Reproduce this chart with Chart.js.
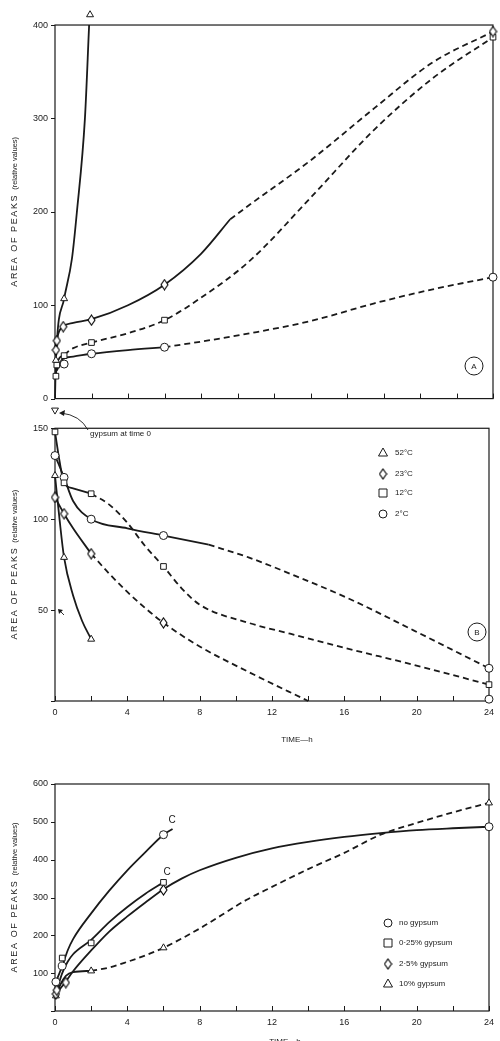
<!DOCTYPE html>
<html>
<head>
<meta charset="utf-8">
<script src="https://cdn.jsdelivr.net/npm/chart.js@4/dist/chart.umd.min.js"></script>
<style>
  body { margin: 0; background: #fff; width: 500px; height: 1041px; overflow: hidden; position: relative; }
  canvas { position: absolute; left: 0; }
</style>
</head>
<body>
<canvas id="chartA" width="500" height="445" style="top:-20px"></canvas>
<canvas id="chartB" width="500" height="365" style="top:385px"></canvas>
<canvas id="chartC" width="500" height="281" style="top:760px"></canvas>
<script>
// ---- panel A : area of peaks vs time, rising ----
const aYTicks = [0, 100, 200, 300, 400];
const a52Marks = [[0.05, 41], [0.5, 107], [1.92, 411]];
const a52Solid = [[0, 0], [0.05, 41], [0.5, 107], [0.93, 150], [1.2, 200], [1.64, 300], [1.87, 400]];
const a23Marks = [[0.05, 52], [0.1, 62], [0.45, 77], [2, 84], [6, 122], [24, 393]];
const a23Solid = [[0.05, 52], [0.1, 62], [0.45, 77], [1, 81], [2, 85], [4, 100], [6, 122], [8, 155], [9.6, 192]];
const a23Dash = [[9.6, 192], [10.7, 208], [14, 255], [17.5, 311], [20.7, 360], [24, 393]];
const a12Marks = [[0.05, 24], [0.1, 36], [0.5, 46], [2, 60], [6, 84], [24, 387]];
const a12Solid = [[0.05, 24], [0.1, 36], [0.5, 47]];
const a12Dash = [[0.5, 47], [1, 54], [2, 60], [4, 70], [6, 84], [8, 108], [10.7, 148], [14, 215], [17.5, 288], [20.7, 343], [24, 387]];
const a2Marks = [[0.5, 37], [2, 48], [6, 55], [24, 130]];
const a2Solid = [[0.1, 30], [0.4, 42], [1, 45], [2, 48], [4, 52], [6, 55]];
const a2Dash = [[6, 55], [8, 61], [10.7, 70], [14, 83], [17.5, 102], [20.7, 117], [24, 130]];

// ---- panel B : falling after gypsum at time 0 ----
const bYTicks = [0, 50, 100, 150];
const bGypsum = [[0, 160]];
const b52Marks = [[0, 124], [0.5, 79], [2, 34]];
const b52Solid = [[0, 124], [0.25, 100], [0.5, 79], [1, 58], [1.5, 44], [2, 34]];
const b23Marks = [[0, 112], [0.5, 103], [2, 81], [6, 43]];
const b23Solid = [[0, 112], [0.5, 103], [1, 95], [2, 81]];
const b23Dash = [[2, 81], [3, 70], [4, 60], [5, 51], [6, 43], [8, 30], [10.7, 16], [14, 0]];
const b12Marks = [[0, 148], [0.5, 120], [2, 114], [6, 74], [24, 9]];
const b12Solid = [[0, 148], [0.25, 132], [0.5, 120], [1, 117], [2, 114]];
const b12Dash = [[2, 114], [3, 108], [4, 98], [5, 85], [6, 74], [7, 62], [8, 53], [10.7, 43], [13, 37], [16.1, 29], [19.8, 20], [24, 9]];
const b2Marks = [[0, 135], [0.5, 123], [2, 100], [6, 91], [24, 18], [24, 1]];
const b2Solid = [[0, 135], [0.5, 123], [1, 110], [2, 100], [4, 95], [6, 91], [8.5, 86]];
const b2Dash = [[8.5, 86], [10.7, 79], [13, 70], [16.1, 57], [19.8, 39], [24, 18]];

// ---- panel C : gypsum content ----
const cYTicks = [0, 100, 200, 300, 400, 500, 600];
const cNoMarks = [[0.05, 77], [0.4, 119], [6, 466], [24, 487]];
const cNoSolid = [[0.05, 77], [0.4, 119], [0.7, 160], [1, 190], [2, 258], [3, 318], [4, 372], [5, 420], [6, 466], [6.5, 481]];
const c025Marks = [[0.4, 140], [2, 180], [6, 340]];
const c025Solid = [[0.1, 55], [0.4, 100], [0.7, 130], [1, 150], [2, 188], [3, 235], [4, 275], [5, 310], [6, 340]];
const c25Marks = [[0.05, 45], [0.1, 55], [0.6, 75], [6, 320]];
const c25Solid = [[0.05, 45], [0.6, 78], [1, 105], [2, 160], [3, 210], [4, 250], [5, 287], [6, 322], [7, 350], [8, 372], [10, 405], [12, 430], [14, 447], [16, 460], [18, 470], [20, 478], [22, 483], [24, 487]];
const c10Marks = [[0.05, 40], [2, 106], [6, 167], [24, 550]];
const c10Solid = [[0.05, 40], [0.3, 70], [0.6, 93], [1, 103], [2, 106]];
const c10Dash = [[2, 106], [3, 115], [4, 130], [5, 147], [6, 167], [8, 218], [10.6, 294], [12, 328], [14, 375], [16, 418], [18, 466], [20, 497], [22, 525], [24, 550]];

const bLegend = ['52°C', '23°C', '12°C', '2°C'];
const cLegend = ['no gypsum', '0·25% gypsum', '2·5% gypsum', '10% gypsum'];

const INK = '#1a1a1a';
const FONT = '"Liberation Sans", Arial, sans-serif';

// narrow diamond marker, as in the print
function makeDiamond(w, h) {
    const c = document.createElement('canvas');
    c.width = w + 2; c.height = h + 2;
    const g = c.getContext('2d');
    g.beginPath();
    g.moveTo(c.width / 2, 1); g.lineTo(c.width - 1, c.height / 2);
    g.lineTo(c.width / 2, c.height - 1); g.lineTo(1, c.height / 2);
    g.closePath();
    g.fillStyle = '#fff'; g.fill();
    g.strokeStyle = '#000'; g.lineWidth = 1.1; g.stroke();
    return c;
}
const diamond = makeDiamond(7, 10);

const pts = a => a.map(([x, y]) => ({ x, y }));

function curve(a, dashed) {
    return {
        data: pts(a), showLine: true, pointRadius: 0, borderColor: INK, borderWidth: 1.8,
        borderDash: dashed ? [6, 4] : [], cubicInterpolationMode: 'monotone', clip: false, order: 2
    };
}
function marks(a, style, rot) {
    return {
        data: pts(a), showLine: false, pointStyle: style, pointRadius: 4, pointRotation: rot || 0,
        pointBackgroundColor: '#fff', pointBorderColor: INK, pointBorderWidth: 1, clip: false, order: 1
    };
}

// marker glyphs for the hand-drawn legends
function glyph(ctx, kind, x, y) {
    ctx.save();
    ctx.fillStyle = '#fff'; ctx.strokeStyle = INK; ctx.lineWidth = 1;
    ctx.beginPath();
    if (kind === 'circle') ctx.arc(x, y, 4, 0, Math.PI * 2);
    else if (kind === 'rect') ctx.rect(x - 4, y - 4, 8, 8);
    else if (kind === 'triangle') { ctx.moveTo(x, y - 5); ctx.lineTo(x + 4.5, y + 3); ctx.lineTo(x - 4.5, y + 3); ctx.closePath(); }
    if (kind === 'diamond') ctx.drawImage(diamond, x - diamond.width / 2, y - diamond.height / 2);
    else { ctx.fill(); ctx.stroke(); }
    ctx.restore();
}

function ringLabel(ctx, x, y, t) {
    ctx.beginPath(); ctx.arc(x, y, 9, 0, Math.PI * 2);
    ctx.lineWidth = 1; ctx.strokeStyle = INK; ctx.stroke();
    ctx.fillStyle = INK; ctx.font = '8px ' + FONT;
    ctx.textAlign = 'center'; ctx.textBaseline = 'middle';
    ctx.fillText(t, x, y + 0.5);
}

// frame, inward x ticks, outward y ticks, rotated y title, per-panel extras
const decor = {
    id: 'decor',
    beforeDatasetsDraw(chart, args, opts) {
        const { ctx, chartArea: ca, scales: { x, y } } = chart;
        const top = y.getPixelForValue(opts.frame[1]);
        const bottom = y.getPixelForValue(opts.frame[0]);
        ctx.save();
        ctx.strokeStyle = INK; ctx.lineWidth = 1.2;
        ctx.strokeRect(ca.left, top, ca.right - ca.left, bottom - top);
        ctx.lineWidth = 1;
        ctx.beginPath();
        x.ticks.forEach(t => {
            const px = Math.round(x.getPixelForValue(t.value)) + 0.5;
            ctx.moveTo(px, bottom); ctx.lineTo(px, bottom - 5);
        });
        y.ticks.forEach(t => {
            const py = Math.round(y.getPixelForValue(t.value)) + 0.5;
            ctx.moveTo(ca.left - 4, py); ctx.lineTo(ca.left, py);
        });
        ctx.stroke();
        ctx.restore();
    },
    afterDraw(chart, args, opts) {
        const { ctx, scales: { y } } = chart;
        const mid = (y.getPixelForValue(opts.frame[0]) + y.getPixelForValue(opts.frame[1])) / 2;
        ctx.save();
        // y axis title with two sizes
        ctx.translate(15, mid);
        ctx.rotate(-Math.PI / 2);
        ctx.fillStyle = INK; ctx.textBaseline = 'middle'; ctx.textAlign = 'left';
        const t1 = 'AREA OF PEAKS', t2 = '(relative values)';
        ctx.font = '9px ' + FONT; ctx.letterSpacing = '1.6px';
        const w1 = ctx.measureText(t1).width;
        ctx.font = '7.5px ' + FONT; ctx.letterSpacing = '0px';
        const w2 = ctx.measureText(t2).width;
        const start = -(w1 + 4 + w2) / 2;
        ctx.font = '9px ' + FONT; ctx.letterSpacing = '1.6px';
        ctx.fillText(t1, start, 0);
        ctx.font = '7.5px ' + FONT; ctx.letterSpacing = '0px';
        ctx.fillText(t2, start + w1 + 4, 0);
        ctx.restore();
        if (opts.extra) { ctx.save(); opts.extra(ctx, chart); ctx.restore(); }
    }
};

function makeChart(id, cfg) {
    return new Chart(document.getElementById(id), {
        type: 'scatter',
        data: { datasets: cfg.datasets },
        plugins: [decor],
        options: {
            responsive: false, animation: false, events: [],
            layout: { padding: cfg.padding },
            plugins: {
                legend: { display: false }, tooltip: { enabled: false },
                decor: { extra: cfg.extra, frame: cfg.frame }
            },
            scales: {
                x: {
                    type: 'linear', min: 0, max: 24,
                    afterFit: s => { s.height = cfg.xHeight; },
                    grid: { display: false, drawTicks: false }, border: { display: false },
                    ticks: {
                        stepSize: 2, padding: 6, color: INK, font: { family: FONT, size: 9 },
                        callback: v => (cfg.xLabels && v % 4 === 0) ? String(v) : ''
                    }
                },
                y: {
                    type: 'linear', min: cfg.yRange[0], max: cfg.yRange[1],
                    afterFit: s => { s.width = 55; },
                    afterBuildTicks: s => { s.ticks = cfg.yTicks.map(v => ({ value: v })); },
                    grid: { display: false, drawTicks: false }, border: { display: false },
                    ticks: {
                        padding: 7, color: INK, font: { family: FONT, size: 9 },
                        callback: v => (v === 0 && !cfg.yZero) ? '' : String(v)
                    }
                }
            }
        }
    });
}

// A: frame 0..400, scale widened so the off-frame marks still draw
makeChart('chartA', {
    padding: { top: 17, right: 7, left: 0, bottom: 0 }, xHeight: 8, xLabels: false,
    yTicks: aYTicks, yZero: true, yRange: [-15, 430], frame: [0, 400],
    datasets: [
        curve(a52Solid), curve(a23Solid), curve(a23Dash, true),
        curve(a12Solid), curve(a12Dash, true), curve(a2Solid), curve(a2Dash, true),
        marks(a52Marks, 'triangle'), marks(a23Marks, diamond), marks(a12Marks, 'rect'), marks(a2Marks, 'circle')
    ],
    extra: ctx => ringLabel(ctx, 474, 386, 'A')
});

makeChart('chartB', {
    padding: { top: 16, right: 6, left: 0, bottom: 0 }, xHeight: 49, xLabels: true,
    yTicks: bYTicks, yZero: false, yRange: [0, 165], frame: [0, 150],
    datasets: [
        curve(b52Solid), curve(b23Solid), curve(b23Dash, true),
        curve(b12Solid), curve(b12Dash, true), curve(b2Solid), curve(b2Dash, true),
        marks(bGypsum, 'triangle', 180),
        marks(b52Marks, 'triangle'), marks(b23Marks, diamond), marks(b12Marks, 'rect'), marks(b2Marks, 'circle')
    ],
    extra: ctx => {
        ringLabel(ctx, 477, 247, 'B');
        // note + arrow to the gypsum point
        ctx.fillStyle = INK; ctx.font = '8px ' + FONT;
        ctx.textAlign = 'left'; ctx.textBaseline = 'middle';
        ctx.fillText('gypsum at time 0', 90, 49);
        ctx.strokeStyle = INK; ctx.lineWidth = 0.9;
        ctx.beginPath(); ctx.moveTo(88, 45); ctx.quadraticCurveTo(80, 30, 61, 28); ctx.stroke();
        ctx.beginPath(); ctx.moveTo(59, 28); ctx.lineTo(65, 25); ctx.lineTo(64, 31); ctx.closePath();
        ctx.fill();
        // small arrow near 50
        ctx.beginPath(); ctx.moveTo(64, 230); ctx.lineTo(59, 225); ctx.stroke();
        ctx.beginPath(); ctx.moveTo(58, 224); ctx.lineTo(63, 225); ctx.lineTo(59, 229); ctx.closePath(); ctx.fill();
        // legend
        const kinds = ['triangle', 'diamond', 'rect', 'circle'];
        const ys = [68, 89, 108, 129];
        ctx.font = '8px ' + FONT;
        bLegend.forEach((t, i) => {
            glyph(ctx, kinds[i], 383, ys[i]);
            ctx.fillStyle = INK; ctx.fillText(t, 395, ys[i]);
        });
        ctx.textAlign = 'center';
        ctx.fillText('TIME—h', 297, 355);
    }
});

makeChart('chartC', {
    padding: { top: 24, right: 3, left: 0, bottom: 0 }, xHeight: 30, xLabels: true,
    yTicks: cYTicks, yZero: false, yRange: [0, 600], frame: [0, 600],
    datasets: [
        curve(cNoSolid), curve(c025Solid), curve(c25Solid),
        curve(c10Solid), curve(c10Dash, true),
        marks(cNoMarks, 'circle'), marks(c025Marks, 'rect'), marks(c25Marks, diamond), marks(c10Marks, 'triangle')
    ],
    extra: ctx => {
        ctx.fillStyle = INK; ctx.font = '10px ' + FONT;
        ctx.textAlign = 'center'; ctx.textBaseline = 'middle';
        ctx.fillText('C', 172, 60);
        ctx.fillText('C', 167, 112);
        const kinds = ['circle', 'rect', 'diamond', 'triangle'];
        const ys = [163, 183, 204, 224];
        ctx.font = '8px ' + FONT; ctx.textAlign = 'left';
        cLegend.forEach((t, i) => {
            glyph(ctx, kinds[i], 388, ys[i]);
            ctx.fillStyle = INK; ctx.fillText(t, 399, ys[i]);
        });
        ctx.textAlign = 'center';
        ctx.fillText('TIME—h', 285, 282);
    }
});
</script>
</body>
</html>
